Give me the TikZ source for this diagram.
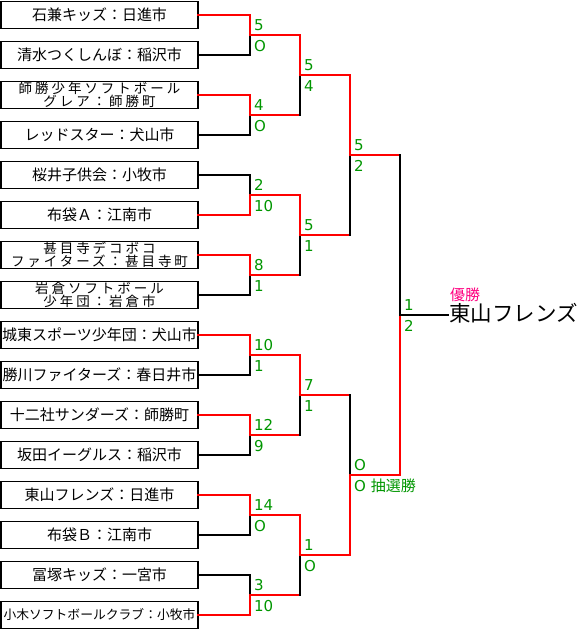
\documentclass[tikz,border=0pt]{standalone}
\usepackage{fontspec}
\setmainfont{Noto Sans CJK JP}
\newfontfamily\jpfont{Noto Sans CJK JP}
\newfontfamily\spacedjp[LetterSpace=22]{Noto Sans CJK JP}
\newfontfamily\scorefont{DejaVu Sans}
\usepackage{tikz}
\usetikzlibrary{positioning}
\definecolor{winred}{RGB}{255,0,0}
\definecolor{scoregreen}{RGB}{0,150,0}
\definecolor{titlepink}{RGB}{255,0,128}

\begin{document}
\begin{tikzpicture}[
  x=1pt, y=-1pt,
  node distance=13pt,
  team/.style={draw, line width=1.5pt, minimum width=197pt, minimum height=27pt, inner sep=0pt, outer sep=0pt, font=\fontsize{15}{18}\selectfont},
  team2/.style={team, align=center, font=\spacedjp\fontsize{13.5}{12.5}\selectfont},
  small/.style={team, font=\fontsize{12.8}{15}\selectfont},
  win/.style={winred, line width=2pt, line cap=rect},
  lose/.style={black, line width=2pt, line cap=rect},
  score/.style={scoregreen, inner sep=1pt, font=\scorefont\fontsize{15}{18}\selectfont},
  hi/.style={score, yshift=10pt},
  lo/.style={score, yshift=-11pt}
]
\useasboundingbox (0,0) rectangle (579,630);

\node[team] (t1) at (99.5,15) {石兼キッズ：日進市};
\node[team, below=of t1] (t2) {清水つくしんぼ：稲沢市};
\node[team2, below=of t2] (t3) {師勝少年ソフトボール\\グレア：師勝町};
\node[team, below=of t3] (t4) {レッドスター：犬山市};
\node[team, below=of t4] (t5) {桜井子供会：小牧市};
\node[team, below=of t5] (t6) {布袋Ａ：江南市};
\node[team2, below=of t6] (t7) {甚目寺デコボコ\\ファイターズ：甚目寺町};
\node[team2, below=of t7] (t8) {岩倉ソフトボール\\少年団：岩倉市};
\node[team, below=of t8] (t9) {城東スポーツ少年団：犬山市};
\node[team, below=of t9] (t10) {勝川ファイターズ：春日井市};
\node[team, below=of t10] (t11) {十二社サンダーズ：師勝町};
\node[team, below=of t11] (t12) {坂田イーグルス：稲沢市};
\node[team, below=of t12] (t13) {東山フレンズ：日進市};
\node[team, below=of t13] (t14) {布袋Ｂ：江南市};
\node[team, below=of t14] (t15) {冨塚キッズ：一宮市};
\node[small, below=of t15] (t16) {小木ソフトボールクラブ：小牧市};

\coordinate (m1) at (250,35);
\coordinate (m2) at (250,115);
\coordinate (m3) at (250,195);
\coordinate (m4) at (250,275);
\coordinate (m5) at (250,355);
\coordinate (m6) at (250,435);
\coordinate (m7) at (250,515);
\coordinate (m8) at (250,595);
\coordinate (s1) at (300,75);
\coordinate (s2) at (300,235);
\coordinate (s3) at (300,395);
\coordinate (s4) at (300,555);
\coordinate (f1) at (350,155);
\coordinate (f2) at (350,475);
\coordinate (fin) at (400,315);

\node[anchor=west, inner sep=1pt, font=\fontsize{21.5}{24}\selectfont] (champ) at (448,313) {東山フレンズ};
\node[anchor=west, inner sep=1pt, text=titlepink, font=\fontsize{15}{18}\selectfont] (yusho) at (449,294.5) {優勝};

\draw[lose] (t2.east) -| (m1);
\draw[win] (t1.east) -| (m1);
\draw[lose] (t4.east) -| (m2);
\draw[win] (t3.east) -| (m2);
\draw[lose] (t5.east) -| (m3);
\draw[win] (t6.east) -| (m3);
\draw[lose] (t8.east) -| (m4);
\draw[win] (t7.east) -| (m4);
\draw[lose] (t10.east) -| (m5);
\draw[win] (t9.east) -| (m5);
\draw[lose] (t12.east) -| (m6);
\draw[win] (t11.east) -| (m6);
\draw[lose] (t14.east) -| (m7);
\draw[win] (t13.east) -| (m7);
\draw[lose] (t15.east) -| (m8);
\draw[win] (t16.east) -| (m8);

\draw[win] (m2) -- (m2 -| s1);
\draw[lose] (m2 -| s1) -- (s1);
\draw[win] (m1) -| (s1);
\draw[win] (m4) -- (m4 -| s2);
\draw[lose] (m4 -| s2) -- (s2);
\draw[win] (m3) -| (s2);
\draw[win] (m6) -- (m6 -| s3);
\draw[lose] (m6 -| s3) -- (s3);
\draw[win] (m5) -| (s3);
\draw[win] (m8) -- (m8 -| s4);
\draw[lose] (m8 -| s4) -- (s4);
\draw[win] (m7) -| (s4);

\draw[win] (s2) -- (s2 -| f1);
\draw[lose] (s2 -| f1) -- (f1);
\draw[win] (s1) -| (f1);
\draw[win] (s3) -- (s3 -| f2);
\draw[lose] (s3 -| f2) -- (f2);
\draw[win] (s4) -| (f2);

\draw[win] (f1) -- (f1 -| fin);
\draw[lose] (f1 -| fin) -- (fin);
\draw[win] (f2) -| (fin);
\draw[lose] (fin) -- (fin -| champ.west);

\node[hi, right=3pt of m1] (m1u) {5};
\node[lo, right=3pt of m1] (m1l) {O};
\node[hi, right=3pt of m2] (m2u) {4};
\node[lo, right=3pt of m2] (m2l) {O};
\node[hi, right=3pt of m3] (m3u) {2};
\node[lo, right=3pt of m3] (m3l) {10};
\node[hi, right=3pt of m4] (m4u) {8};
\node[lo, right=3pt of m4] (m4l) {1};
\node[hi, right=3pt of m5] (m5u) {10};
\node[lo, right=3pt of m5] (m5l) {1};
\node[hi, right=3pt of m6] (m6u) {12};
\node[lo, right=3pt of m6] (m6l) {9};
\node[hi, right=3pt of m7] (m7u) {14};
\node[lo, right=3pt of m7] (m7l) {O};
\node[hi, right=3pt of m8] (m8u) {3};
\node[lo, right=3pt of m8] (m8l) {10};
\node[hi, right=3pt of s1] (s1u) {5};
\node[lo, right=3pt of s1] (s1l) {4};
\node[hi, right=3pt of s2] (s2u) {5};
\node[lo, right=3pt of s2] (s2l) {1};
\node[hi, right=3pt of s3] (s3u) {7};
\node[lo, right=3pt of s3] (s3l) {1};
\node[hi, right=3pt of s4] (s4u) {1};
\node[lo, right=3pt of s4] (s4l) {O};
\node[hi, right=3pt of f1] (f1u) {5};
\node[lo, right=3pt of f1] (f1l) {2};
\node[hi, right=3pt of f2] (f2u) {O};
\node[lo, right=3pt of f2] (f2l) {O {\jpfont 抽選勝}};
\node[hi, right=3pt of fin] (finu) {1};
\node[lo, right=3pt of fin] (finl) {2};
\end{tikzpicture}
\end{document}
